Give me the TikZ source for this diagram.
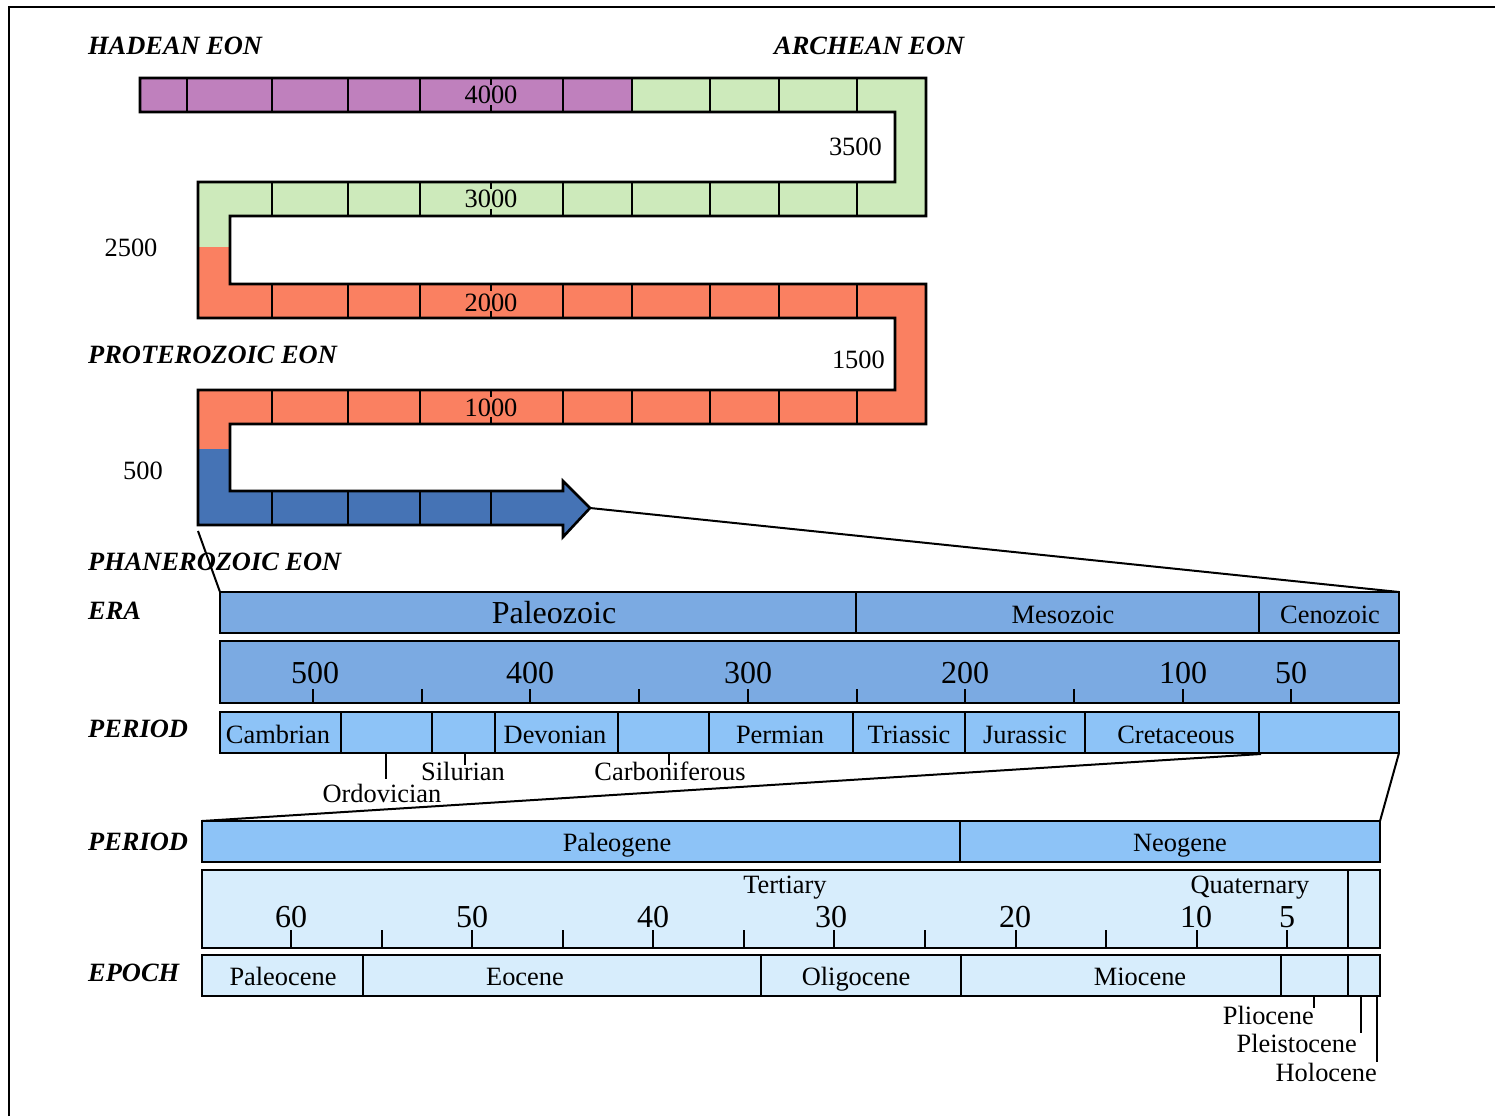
\documentclass[tikz,border=0pt]{standalone}
\usepackage{fontspec}
\setmainfont{Liberation Serif}
\definecolor{hadC}{HTML}{BF80BD}
\definecolor{arcC}{HTML}{CDEABB}
\definecolor{proC}{HTML}{FA8061}
\definecolor{phaC}{HTML}{4573B5}
\definecolor{eraC}{HTML}{7BAAE2}
\definecolor{perC}{HTML}{8DC3F7}
\definecolor{epC}{HTML}{D7EDFC}
\newcommand\fsz{\fontsize{26.4}{30}\selectfont}
\newcommand\fbg{\fontsize{32}{38}\selectfont}
\tikzset{
  lbl/.style={font=\fsz, inner sep=0, anchor=base},
  lble/.style={font=\fsz, inner sep=0, anchor=base east},
  bigl/.style={font=\fbg, inner sep=0, anchor=base},
  eon/.style={font=\fsz\bfseries\itshape, inner sep=0, anchor=base west},
  barN/.style={draw, line width=2.5pt, inner sep=0, outer sep=0, anchor=north west},
  tk/.style={line width=2.3pt},
  zl/.style={line width=2pt},
  bandline/.style={line width=2.6pt, line join=miter}
}
\begin{document}
\begin{tikzpicture}[x=1pt,y=-1pt]
\useasboundingbox (0,0) rectangle (1495,1116);
% frame
\draw[line width=2pt] (9,1116) -- (9,7) -- (1495,7);

% ---- serpentine band: fills
\fill[hadC] (140,78) rectangle (632,112);
\fill[arcC] (632,78) -- (926,78) -- (926,216) -- (230,216) -- (230,247) -- (198,247) -- (198,182) -- (895,182) -- (895,112) -- (632,112) -- cycle;
\fill[proC] (198,247) -- (230,247) -- (230,284) -- (926,284) -- (926,424) -- (230,424) -- (230,449) -- (198,449) -- (198,390) -- (895,390) -- (895,318) -- (198,318) -- cycle;
\fill[phaC] (198,449) -- (230,449) -- (230,491) -- (563,491) -- (563,481) -- (590,508) -- (563,537) -- (563,525) -- (198,525) -- cycle;
% dividers
\foreach \x in {187,272,348,420,563,632,710,779,857} \draw[tk] (\x,78) -- (\x,112);
\foreach \yy in {182,284,390}{
  \foreach \x in {272,348,420,563,632,710,779,857} \draw[tk] (\x,\yy) -- (\x,\yy+34);
  }
\foreach \x in {272,348,420,491} \draw[tk] (\x,491) -- (\x,525);
\foreach \yy in {78,182,284,390}{
  \draw[tk] (491,\yy) -- (491,\yy+7);
  \draw[tk] (491,\yy+27) -- (491,\yy+34);
  }
% outline
\draw[bandline] (140,78) -- (926,78) -- (926,216) -- (230,216) -- (230,284) -- (926,284) -- (926,424) -- (230,424) -- (230,491) -- (563,491) -- (563,481) -- (590,508) -- (563,537) -- (563,525) -- (198,525) -- (198,390) -- (895,390) -- (895,318) -- (198,318) -- (198,182) -- (895,182) -- (895,112) -- (140,112) -- cycle;
\coordinate (tip) at (590,508);
\coordinate (bandBL) at (198,531);

% band labels
\node[lbl] (t4000) at (491,103) {4000};
\node[lbl] (t3000) at (491,207) {3000};
\node[lbl] (t2000) at (491,311) {2000};
\node[lbl] (t1000) at (491,416) {1000};
\node[lble] (t3500) at (882,155) {3500};
\node[lbl] (t2500) at (131,256) {2500};
\node[lble] (t1500) at (885,368) {1500};
\node[lbl] (t500) at (143,479) {500};

% eon / row labels
\node[eon] (hadean) at (88,55) {HADEAN EON};
\node[eon] (archean) at (774,55) {ARCHEAN EON};
\node[eon] (protero) at (88,363) {PROTEROZOIC EON};
\node[eon] (phanero) at (88,570) {PHANEROZOIC EON};
\node[eon] (eraL) at (88,619) {ERA};
\node[eon] (perL1) at (88,737) {PERIOD};
\node[eon] (perL2) at (88,850) {PERIOD};
\node[eon] (epoL) at (88,981) {EPOCH};

% ---- Phanerozoic detail
\node[barN, fill=eraC, minimum width=1179pt, minimum height=41pt] (era) at (220,592) {};
\node[barN, fill=eraC, minimum width=1179pt, minimum height=62pt] (scaleA) at (220,641) {};
\node[barN, fill=perC, minimum width=1179pt, minimum height=41pt] (perA) at (220,712) {};
\foreach \x in {856,1259} \draw[tk] (\x,592) -- (\x,633);
\node[bigl] (paleoz) at (554,623) {Paleozoic};
\node[lbl] (mesoz) at (1063,623) {Mesozoic};
\node[lbl] (cenoz) at (1330,623) {Cenozoic};
\foreach \x in {313,422,530,639,748,857,965,1074,1183,1291} \draw[tk] (\x,689) -- (\x,703);
\node[bigl] (s500) at (315,683) {500};
\node[bigl] (s400) at (530,683) {400};
\node[bigl] (s300) at (748,683) {300};
\node[bigl] (s200) at (965,683) {200};
\node[bigl] (s100) at (1183,683) {100};
\node[bigl] (s50) at (1291,683) {50};
\foreach \x in {341,432,495,618,709,853,965,1085,1259} \draw[tk] (\x,712) -- (\x,753);
\node[lbl] (camb) at (278,743) {Cambrian};
\node[lbl] (devo) at (555,743) {Devonian};
\node[lbl] (perm) at (780,743) {Permian};
\node[lbl] (tria) at (909,743) {Triassic};
\node[lbl] (jura) at (1025,743) {Jurassic};
\node[lbl] (cret) at (1176,743) {Cretaceous};
\draw[zl] (386,753) -- (386,779);
\draw[zl] (465,753) -- (465,765);
\draw[zl] (669,753) -- (669,765);
\node[lbl] (ordo) at (382,802) {Ordovician};
\node[lbl] (silu) at (463,780) {Silurian};
\node[lbl] (carb) at (670,780) {Carboniferous};

% zoom connectors (upper)
\draw[zl] (bandBL) -- (era.north west);
\draw[zl] (tip) -- (era.north east);

% ---- Cenozoic detail
\node[barN, fill=perC, minimum width=1178pt, minimum height=41pt] (perB) at (202,821) {};
\node[barN, fill=epC, minimum width=1178pt, minimum height=78pt] (scaleB) at (202,870) {};
\node[barN, fill=epC, minimum width=1178pt, minimum height=41pt] (epo) at (202,955) {};
\draw[tk] (960,821) -- (960,862);
\node[lbl] (paleog) at (617,851) {Paleogene};
\node[lbl] (neog) at (1180,851) {Neogene};
\draw[tk] (1348,870) -- (1348,948);
\node[lbl] (tert) at (785,893) {Tertiary};
\node[lbl] (quat) at (1250,893) {Quaternary};
\foreach \x in {291,382,472,563,653,744,834,925,1016,1106,1197,1287} \draw[tk] (\x,930) -- (\x,948);
\node[bigl] (c60) at (291,927) {60};
\node[bigl] (c50) at (472,927) {50};
\node[bigl] (c40) at (653,927) {40};
\node[bigl] (c30) at (831,927) {30};
\node[bigl] (c20) at (1015,927) {20};
\node[bigl] (c10) at (1196,927) {10};
\node[bigl] (c5) at (1287,927) {5};
\foreach \x in {363,761,961,1281,1348} \draw[tk] (\x,955) -- (\x,996);
\node[lbl] (paleoc) at (283,985) {Paleocene};
\node[lbl] (eoc) at (525,985) {Eocene};
\node[lbl] (oligo) at (856,985) {Oligocene};
\node[lbl] (mioc) at (1140,985) {Miocene};
\draw[zl] (1314,996) -- (1314,1008);
\draw[zl] (1361,996) -- (1361,1033);
\draw[zl] (1377,996) -- (1377,1062);
\node[lble] (plio) at (1314,1024) {Pliocene};
\node[lble] (pleis) at (1357,1052) {Pleistocene};
\node[lble] (holo) at (1377,1081) {Holocene};

% zoom connectors (lower)
\coordinate (cenoBL) at (1261,754);
\draw[zl] (cenoBL) -- (perB.north west);
\draw[zl] (perA.south east) -- (perB.north east);
\end{tikzpicture}
\end{document}
